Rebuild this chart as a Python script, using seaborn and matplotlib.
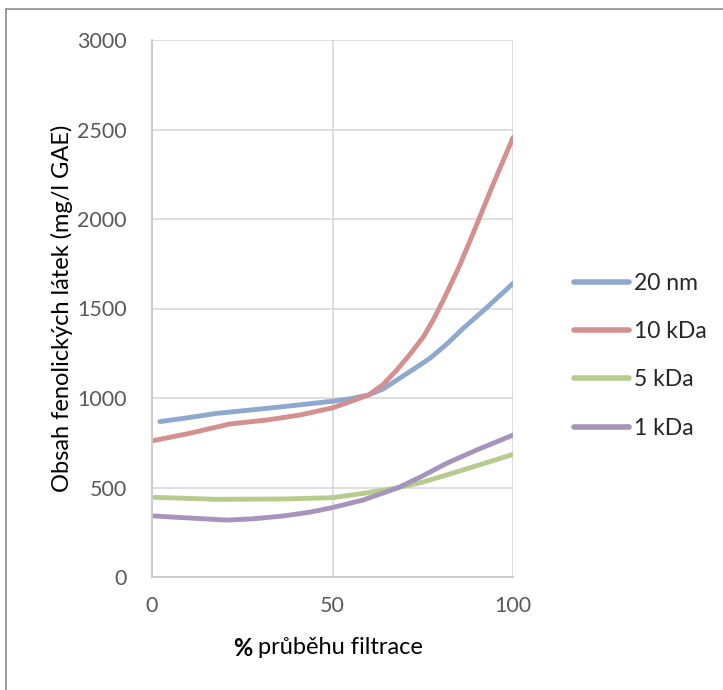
import matplotlib
matplotlib.use("Agg")
import matplotlib.pyplot as plt
import seaborn as sns
import pandas as pd
from matplotlib.patches import Rectangle

# Data
series_names = ["20 nm", "10 kDa", "5 kDa", "1 kDa"]
x_20nm = [2.2, 10, 17.9, 31.8, 41, 50, 55, 60, 64, 67.8, 72, 77, 81.6, 86.2, 93, 100]
y_20nm = [868, 890, 914, 942, 962, 982, 996, 1017, 1050, 1100, 1155, 1222, 1300, 1389, 1510, 1640]
x_10kda = [0.4, 10.5, 21.6, 31.8, 41, 50, 55, 60, 64, 67.8, 71.5, 75.2, 78, 80.7, 85, 89, 94, 100]
y_10kda = [762, 803, 855, 877, 905, 945, 980, 1017, 1075, 1156, 1245, 1342, 1440, 1547, 1730, 1922, 2170, 2455]
x_5kda = [0.8, 17.9, 36.4, 50, 58.5, 68.2, 75, 81.6, 90, 100]
y_5kda = [445, 434, 436, 443, 467, 499, 530, 570, 622, 685]
x_1kda = [0.4, 10, 20.7, 28, 36.4, 44, 50, 58.5, 68.2, 75, 81.6, 90, 100]
y_1kda = [341, 330, 318, 325, 341, 363, 388, 430, 499, 565, 635, 710, 793]

x_ticks = [0, 50, 100]
y_ticks = [0, 500, 1000, 1500, 2000, 2500, 3000]
x_label_bold = "%"
x_label_rest = "průběhu filtrace"
y_label = "Obsah fenolických látek (mg/l GAE)"

colors = ["#8EA8D0", "#D4908E", "#B6CC8E", "#A694BD"]

frames = []
for name, xs, ys in zip(series_names,
                        [x_20nm, x_10kda, x_5kda, x_1kda],
                        [y_20nm, y_10kda, y_5kda, y_1kda]):
    frames.append(pd.DataFrame({"x": xs, "y": ys, "series": name}))
df = pd.concat(frames, ignore_index=True)

sns.set_theme(style="white")
plt.rcParams["font.family"] = ["Lato", "DejaVu Sans"]

fig = plt.figure(figsize=(7.23, 6.90), dpi=100)
ax = fig.add_axes([152 / 723, 1 - 577 / 690, (513 - 152) / 723, (577 - 40) / 690])

sns.lineplot(data=df, x="x", y="y", hue="series", hue_order=series_names,
             palette=colors, sort=False, estimator=None, linewidth=3.5,
             ax=ax, legend=True)
for line in ax.get_lines():
    line.set_solid_capstyle("round")
    line.set_solid_joinstyle("round")

ax.set_xlim(0, 100)
ax.set_ylim(0, 3000)
ax.set_xticks(x_ticks)
ax.set_yticks(y_ticks)
ax.set_xticklabels([str(v) for v in x_ticks])
ax.set_yticklabels([str(v) for v in y_ticks])
ax.tick_params(axis="both", length=0, labelsize=15.5, labelcolor="#595959")
ax.tick_params(axis="x", pad=14)
ax.tick_params(axis="y", pad=18)
ax.grid(True, color="#D9D9D9", linewidth=1.2)
ax.set_axisbelow(True)
for s in ["top", "right"]:
    ax.spines[s].set_visible(False)
for s in ["left", "bottom"]:
    ax.spines[s].set_color("#C8C8C8")
    ax.spines[s].set_linewidth(1.3)

ax.set_xlabel("")
ax.set_ylabel(y_label, fontsize=17, color="black", labelpad=3)

# x label with bold %
t1 = fig.text(233 / 723, 1 - 648 / 690, x_label_bold, fontsize=17, fontweight="bold",
              ha="left", va="center", color="black")
ax.annotate(" " + x_label_rest, xy=(1, 0.5), xycoords=t1, ha="left", va="center",
            fontsize=17, color="black", annotation_clip=False)

# legend
handles, labels = ax.get_legend_handles_labels()
for h in handles:
    h.set_linewidth(4)
    h.set_solid_capstyle("round")
leg = ax.legend(handles, labels, loc="center left", bbox_to_anchor=(1.113, 0.412),
                frameon=False, fontsize=16.5, handlelength=2.4, handletextpad=0.2,
                labelspacing=1.19)

# chart area border (Excel-like)
fig.patches.append(Rectangle((6 / 723, -0.1), 1.2, 1 - 9 / 690 + 0.1,
                             transform=fig.transFigure, fill=False,
                             edgecolor="#8C8C8C", linewidth=1.2))

fig.savefig("out.png", dpi=100)
